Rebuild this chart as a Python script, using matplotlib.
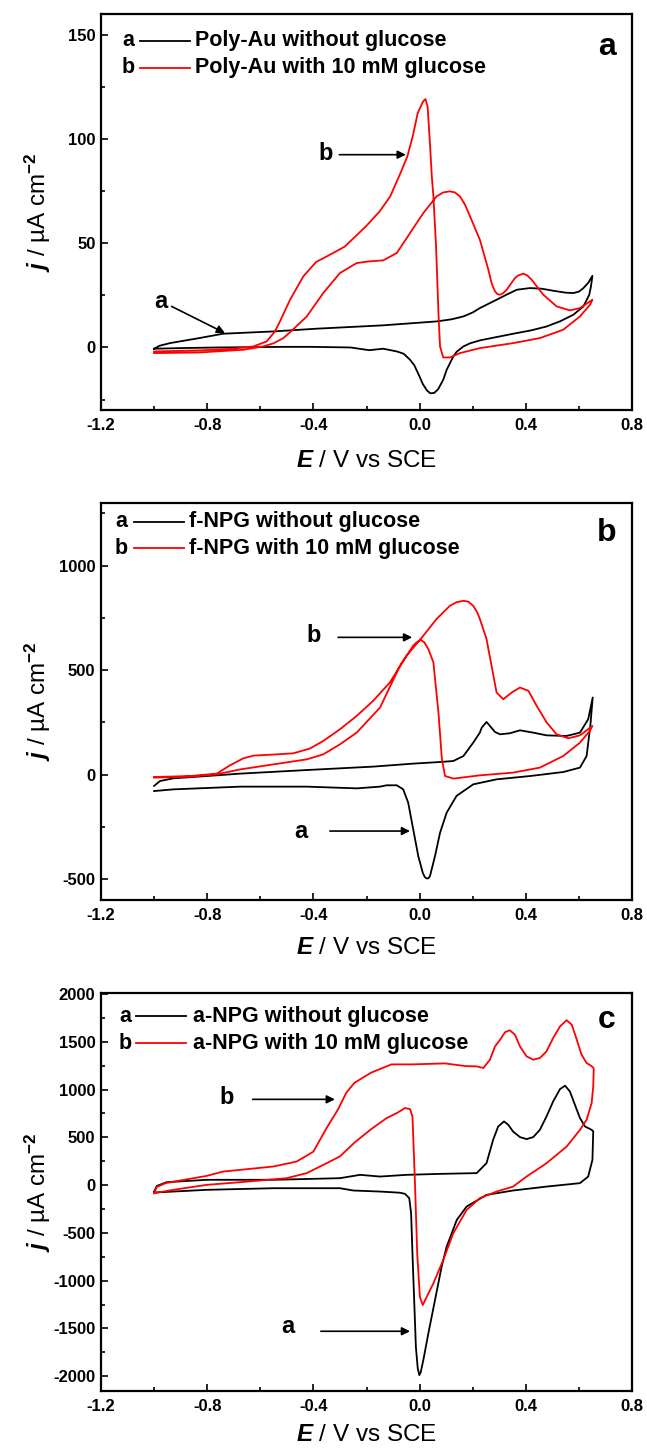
import matplotlib
matplotlib.use("Agg")
import matplotlib.pyplot as plt
from matplotlib.ticker import MultipleLocator, FormatStrFormatter
from matplotlib.lines import Line2D

plt.rcParams['font.family'] = ['Liberation Sans', 'DejaVu Sans']
plt.rcParams['axes.unicode_minus'] = False
plt.rcParams['mathtext.fontset'] = 'custom'
plt.rcParams['mathtext.it'] = 'Liberation Sans:italic:bold'
plt.rcParams['mathtext.rm'] = 'Liberation Sans'
plt.rcParams['mathtext.bf'] = 'Liberation Sans:bold'

RED = '#ff0000'

# ---- panel a: Poly-Au (j in uA cm-2) ----
polyau_blank_E = [-1.0, -0.98, -0.94, -0.83, -0.74, -0.55, -0.39, -0.14, 0.064, 0.12, 0.165, 0.2,
                  0.227, 0.26, 0.29, 0.33, 0.366, 0.416, 0.46, 0.504, 0.55, 0.579, 0.60, 0.617, 0.635, 0.651,
                  0.645, 0.639, 0.617, 0.579, 0.53, 0.479, 0.42, 0.353, 0.29, 0.227, 0.19, 0.165, 0.14,
                  0.127, 0.102, 0.089, 0.07, 0.055, 0.04, 0.027, 0.012, 0.0, -0.02, -0.036, -0.06, -0.086,
                  -0.137, -0.19, -0.26, -0.41, -0.51, -0.76, -0.9, -1.0]
polyau_blank_j = [-0.6, 0.8, 2.1, 4.5, 6.6, 7.7, 9.0, 10.6, 12.5, 13.5, 14.9, 16.8,
                  18.9, 21, 22.9, 25.5, 27.7, 28.5, 28.2, 27.2, 26.3, 26.1, 26.8, 28.5, 31, 34.4,
                  29, 25.3, 19.7, 15.7, 12.6, 10.1, 8.2, 6.6, 5.0, 3.4, 2.0, 0.5, -2.0,
                  -4.3, -10.7, -15.5, -20, -21.8, -22, -20.5, -17.5, -14, -8.5, -5.9, -3.0, -1.9,
                  -0.6, -1.3, 0, 0.3, 0.3, 0, -0.3, -0.6]
polyau_gluc_E = [-1.0, -0.83, -0.664, -0.589, -0.55, -0.513, -0.482, -0.425, -0.363, -0.30, -0.237,
                 -0.19, -0.137, -0.086, -0.036, 0.014, 0.064, 0.089, 0.114, 0.133, 0.152, 0.171, 0.19,
                 0.227, 0.259, 0.271, 0.284, 0.293, 0.303, 0.315, 0.328, 0.359, 0.372, 0.391, 0.405,
                 0.422, 0.466, 0.516, 0.566, 0.604, 0.651,
                 0.642, 0.604, 0.541, 0.453, 0.353, 0.227, 0.152, 0.114, 0.089, 0.077, 0.071, 0.062,
                 0.052, 0.046, 0.039, 0.030, 0.022, 0.013, -0.007, -0.026, -0.046, -0.072, -0.111,
                 -0.151, -0.203, -0.282, -0.345, -0.39, -0.438, -0.488, -0.526, -0.545, -0.576,
                 -0.626, -0.702, -0.827, -1.0]
polyau_gluc_j = [-2.7, -2.4, -1.1, 0.5, 2.0, 4.5, 8.0, 14.9, 26.1, 35.7, 40.5,
                 41.3, 41.8, 45.3, 54.9, 64.5, 72.5, 74.4, 74.9, 74.4, 72.5, 68.5, 62.9,
                 51.7, 37.3, 30.9, 26.9, 25.6, 25.3, 26.1, 27.7, 33.3, 34.6, 35.4, 34.6,
                 32.5, 25.3, 19.7, 17.8, 18.9, 22.9,
                 20.5, 14.9, 8.5, 4.5, 2.1, -0.3, -2.7, -4.8, -4.8, 0.5, 16.5, 48.5,
                 72.5, 82, 98, 115.7, 119.2, 118, 112.5, 101.3, 91.7, 83.7, 72.4,
                 65.2, 58, 48.4, 44, 41, 34.1, 22.9, 12.5, 7.7, 2.9,
                 0.5, -0.6, -1.4, -1.9]

# ---- panel b: f-NPG ----
fnpg_blank_E = [-1.0, -0.978, -0.928, -0.802, -0.676, -0.425, -0.174, -0.024, 0.077, 0.127, 0.165,
                0.202, 0.227, 0.234, 0.252, 0.265, 0.284, 0.303, 0.34, 0.378, 0.428, 0.478, 0.553,
                0.604, 0.635, 0.652,
                0.643, 0.629, 0.604, 0.541, 0.416, 0.29, 0.202, 0.139, 0.102, 0.077, 0.058, 0.039,
                0.033, 0.027, 0.020, 0.012, -0.005, -0.024, -0.043, -0.062, -0.086, -0.124, -0.149,
                -0.237, -0.425, -0.676, -0.928, -1.0]
fnpg_blank_j = [-54, -30.7, -17.7, -6.7, 4.8, 22, 38.4, 52.7, 60.4, 65.2, 89,
                153, 201, 225, 252, 233, 204, 193, 198, 212, 201, 188, 185,
                201, 265, 369,
                233, 89, 33.6, 12.5, -6.7, -22.5, -46.5, -102, -182, -278, -390, -486,
                -496, -497, -491, -470, -390, -262, -134, -70, -51, -51, -57.5,
                -65.7, -57.5, -57.5, -70.5, -78.6]
fnpg_gluc_E = [-1.0, -0.865, -0.764, -0.714, -0.664, -0.626, -0.551, -0.476, -0.413, -0.363, -0.30,
               -0.237, -0.175, -0.112, -0.049, 0.014, 0.064, 0.114, 0.139, 0.165, 0.183, 0.202,
               0.217, 0.227, 0.252, 0.271, 0.29, 0.315, 0.347, 0.378, 0.41, 0.441, 0.479, 0.516,
               0.56, 0.604, 0.651,
               0.641, 0.604, 0.541, 0.453, 0.352, 0.227, 0.127, 0.096, 0.084, 0.071, 0.052, 0.033,
               0.018, 0.004, -0.011, -0.024, -0.074, -0.149, -0.237, -0.30, -0.363, -0.425, -0.551,
               -0.676, -0.764, -0.865, -1.0]
fnpg_gluc_j = [-11.5, -6.7, 4.8, 44.6, 78, 91, 96, 102, 125, 161, 217,
               281, 353, 441, 569, 665, 745, 808, 825, 832, 828, 808,
               777, 745, 649, 521, 393, 361, 393, 417, 401, 329, 249, 193,
               174, 188, 233,
               209, 153, 89, 33.6, 9.6, -3.4, -19, -6.7, 73, 297, 537, 601,
               633, 645, 633, 617, 521, 321, 201, 145, 97, 73, 49,
               25, 1.4, -9.6, -14.4]

# ---- panel c: a-NPG ----
anpg_blank_E = [-1.0, -0.99, -0.953, -0.802, -0.551, -0.30, -0.224, -0.149, -0.049, 0.077, 0.215,
                0.252, 0.277, 0.296, 0.318, 0.334, 0.352, 0.378, 0.403, 0.428, 0.453, 0.478, 0.503,
                0.529, 0.548, 0.566, 0.585, 0.604, 0.623, 0.648, 0.654,
                0.651, 0.635, 0.604, 0.478, 0.352, 0.252, 0.177, 0.14, 0.102, 0.083, 0.058, 0.033,
                0.014, 0.004, -0.001, -0.007, -0.014, -0.020, -0.026, -0.032, -0.039, -0.055, -0.074,
                -0.149, -0.25, -0.30, -0.551, -0.802, -1.0]
anpg_blank_j = [-70, -10, 30, 55, 55, 72, 107, 89, 107, 117, 125,
                229, 474, 613, 666, 631, 560, 502, 481, 502, 578, 718, 875,
                1005, 1040, 980, 840, 701, 613, 578, 561,
                264, 89, 20, -16, -57, -103, -225, -365, -644, -854, -1203, -1552,
                -1832, -1961, -1989, -1919, -1693, -1238, -784, -294, -137, -92, -80,
                -68, -57, -33, -33, -50, -78]
anpg_gluc_E = [-1.0, -0.99, -0.957, -0.903, -0.802, -0.739, -0.676, -0.551, -0.463, -0.40, -0.353,
               -0.307, -0.276, -0.245, -0.183, -0.106, -0.028, 0.096, 0.173, 0.215, 0.240, 0.265,
               0.284, 0.303, 0.322, 0.340, 0.359, 0.378, 0.403, 0.428, 0.453, 0.478, 0.503, 0.529,
               0.554, 0.573, 0.592, 0.610, 0.629, 0.648,
               0.656, 0.654, 0.648, 0.629, 0.604, 0.554, 0.478, 0.403, 0.352, 0.29, 0.227, 0.177,
               0.127, 0.089, 0.052, 0.027, 0.012, 0.001, -0.009, -0.017, -0.024, -0.027, -0.036,
               -0.055, -0.086, -0.124, -0.183, -0.245, -0.30, -0.35, -0.425, -0.501, -0.676,
               -0.802, -0.928, -1.0]
anpg_gluc_j = [-85, -20, 20, 47, 96, 142, 159, 194, 246, 350, 584,
               793, 967, 1071, 1176, 1263, 1263, 1273, 1245, 1242, 1225, 1312,
               1451, 1520, 1600, 1620, 1574, 1451, 1347, 1312, 1330, 1399, 1539, 1661,
               1725, 1679, 1522, 1364, 1277, 1245,
               1220, 1032, 858, 683, 578, 403, 229, 89, -16, -68, -137, -260,
               -504, -784, -1028, -1168, -1256, -1168, -714, -16, 508, 718, 795,
               806, 753, 701, 584, 445, 300, 229, 125, 72, 30,
               2, -50, -85]

panels = [
    dict(E0=polyau_blank_E, j0=polyau_blank_j, E1=polyau_gluc_E, j1=polyau_gluc_j,
         labels=['Poly-Au without glucose', 'Poly-Au with 10 mM glucose'], tag='a',
         ylim=(-30, 160), major=50, minor=25, rect=(14, 410), xlab_y=-0.128,
         leg=(0.051, 0.073, 0.168, 0.177, 0.932, 0.864), tagpos=(0.953, 0.917),
         notes=[('a', (-0.973, 22.1), (-0.934, 19.7), (-0.733, 6.9)),
                ('b', (-0.354, 93.3), (-0.302, 92.5), (-0.052, 92.5))]),
    dict(E0=fnpg_blank_E, j0=fnpg_blank_j, E1=fnpg_gluc_E, j1=fnpg_gluc_j,
         labels=['f-NPG without glucose', 'f-NPG with 10 mM glucose'], tag='b',
         ylim=(-600, 1300), major=500, minor=250, rect=(503, 900), xlab_y=-0.122,
         leg=(0.038, 0.062, 0.156, 0.166, 0.953, 0.886), tagpos=(0.953, 0.924),
         notes=[('b', (-0.40, 665), (-0.307, 657), (-0.028, 657)),
                ('a', (-0.446, -270), (-0.338, -270), (-0.036, -270))]),
    dict(E0=anpg_blank_E, j0=anpg_blank_j, E1=anpg_gluc_E, j1=anpg_gluc_j,
         labels=['a-NPG without glucose', 'a-NPG with 10 mM glucose'], tag='c',
         ylim=(-2150, 2010), major=500, minor=250, rect=(993, 1390.5), xlab_y=-0.112,
         leg=(0.045, 0.066, 0.160, 0.174, 0.941, 0.874), tagpos=(0.953, 0.933),
         notes=[('b', (-0.728, 915), (-0.629, 897), (-0.319, 897)),
                ('a', (-0.497, -1485), (-0.372, -1530), (-0.036, -1530))]),
]

W, H = 647, 1449
fig = plt.figure(figsize=(W / 100, H / 100), dpi=100)

for p in panels:
    top, bot = p['rect']
    ax = fig.add_axes([101 / W, 1 - bot / H, 531 / W, (bot - top) / H])
    ax.plot(p['E0'], p['j0'], color='k', lw=1.3)
    ax.plot(p['E1'], p['j1'], color=RED, lw=1.3)

    ax.set_xlim(-1.2, 0.8)
    ax.set_ylim(*p['ylim'])
    ax.xaxis.set_major_locator(MultipleLocator(0.4))
    ax.xaxis.set_minor_locator(MultipleLocator(0.2))
    ax.xaxis.set_major_formatter(FormatStrFormatter('%.1f'))
    ax.yaxis.set_major_locator(MultipleLocator(p['major']))
    ax.yaxis.set_minor_locator(MultipleLocator(p['minor']))
    ax.tick_params(which='both', direction='in', top=False, right=False, width=1.2)
    ax.tick_params(which='major', length=5, labelsize=12, pad=6)
    ax.tick_params(which='minor', length=3)
    ax.tick_params(axis='y', pad=4)
    for lab in ax.get_xticklabels() + ax.get_yticklabels():
        lab.set_fontweight('bold')
    for s in ax.spines.values():
        s.set_linewidth(1.6)

    ax.set_xlabel(r'$E$ / V vs SCE', fontsize=17.5)
    ax.xaxis.label.set_va('center')
    ax.xaxis.set_label_coords(0.5, p['xlab_y'])
    ax.set_ylabel(r'$j$ / µA cm$^{\mathbf{-2}}$', fontsize=17.5)
    ax.yaxis.label.set_va('center')
    ax.yaxis.set_label_coords(-0.118, 0.5)

    # legend drawn by hand: letter, line sample, text
    xa, x1, x2, xt, ya, yb = p['leg']
    for letter, col, lab, yy in [('a', 'k', p['labels'][0], ya), ('b', RED, p['labels'][1], yb)]:
        ax.text(xa, yy, letter, transform=ax.transAxes, ha='center', va='center',
                fontsize=15.5, fontweight='bold')
        ax.add_line(Line2D([x1, x2], [yy, yy], transform=ax.transAxes, color=col, lw=1.3))
        ax.text(xt, yy, lab, transform=ax.transAxes, ha='left', va='center',
                fontsize=15.5, fontweight='bold')

    ax.text(p['tagpos'][0], p['tagpos'][1], p['tag'], transform=ax.transAxes,
            ha='center', va='center', fontsize=23, fontweight='bold')

    for letter, lpos, tail, head in p['notes']:
        ax.text(lpos[0], lpos[1], letter, ha='center', va='center', fontsize=17, fontweight='bold')
        ax.annotate('', xy=head, xytext=tail,
                    arrowprops=dict(arrowstyle='-|>', color='k', lw=1.2, mutation_scale=12,
                                    shrinkA=0, shrinkB=0))

fig.savefig('out.png', dpi=100)
